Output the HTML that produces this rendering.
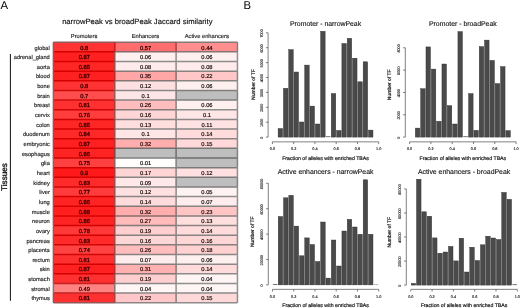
<!DOCTYPE html>
<html><head><meta charset="utf-8"><style>
html,body{margin:0;padding:0;background:#fff;width:520px;height:308px;overflow:hidden}
svg{display:block;font-family:"Liberation Sans", sans-serif;will-change:transform;text-rendering:geometricPrecision}
</style></head><body>
<svg width="520" height="308" viewBox="0 0 520 308">
<rect width="520" height="308" fill="#fff"/>
<rect x="53.40" y="42.20" width="61.35" height="9.65" fill="rgb(255,51,51)"/>
<rect x="114.75" y="42.20" width="61.35" height="9.65" fill="rgb(255,110,110)"/>
<rect x="176.10" y="42.20" width="61.35" height="9.65" fill="rgb(255,143,143)"/>
<rect x="53.40" y="51.85" width="61.35" height="9.65" fill="rgb(255,33,33)"/>
<rect x="114.75" y="51.85" width="61.35" height="9.65" fill="rgb(255,240,240)"/>
<rect x="176.10" y="51.85" width="61.35" height="9.65" fill="rgb(255,240,240)"/>
<rect x="53.40" y="61.50" width="61.35" height="9.65" fill="rgb(255,38,38)"/>
<rect x="114.75" y="61.50" width="61.35" height="9.65" fill="rgb(255,235,235)"/>
<rect x="176.10" y="61.50" width="61.35" height="9.65" fill="rgb(255,235,235)"/>
<rect x="53.40" y="71.15" width="61.35" height="9.65" fill="rgb(255,33,33)"/>
<rect x="114.75" y="71.15" width="61.35" height="9.65" fill="rgb(255,166,166)"/>
<rect x="176.10" y="71.15" width="61.35" height="9.65" fill="rgb(255,199,199)"/>
<rect x="53.40" y="80.80" width="61.35" height="9.65" fill="rgb(255,51,51)"/>
<rect x="114.75" y="80.80" width="61.35" height="9.65" fill="rgb(255,224,224)"/>
<rect x="176.10" y="80.80" width="61.35" height="9.65" fill="rgb(255,240,240)"/>
<rect x="53.40" y="90.45" width="61.35" height="9.65" fill="rgb(255,77,77)"/>
<rect x="114.75" y="90.45" width="61.35" height="9.65" fill="rgb(255,230,230)"/>
<rect x="176.10" y="90.45" width="61.35" height="9.65" fill="rgb(190,190,190)"/>
<rect x="53.40" y="100.10" width="61.35" height="9.65" fill="rgb(255,48,48)"/>
<rect x="114.75" y="100.10" width="61.35" height="9.65" fill="rgb(255,189,189)"/>
<rect x="176.10" y="100.10" width="61.35" height="9.65" fill="rgb(255,240,240)"/>
<rect x="53.40" y="109.75" width="61.35" height="9.65" fill="rgb(255,61,61)"/>
<rect x="114.75" y="109.75" width="61.35" height="9.65" fill="rgb(255,214,214)"/>
<rect x="176.10" y="109.75" width="61.35" height="9.65" fill="rgb(255,230,230)"/>
<rect x="53.40" y="119.40" width="61.35" height="9.65" fill="rgb(255,38,38)"/>
<rect x="114.75" y="119.40" width="61.35" height="9.65" fill="rgb(255,222,222)"/>
<rect x="176.10" y="119.40" width="61.35" height="9.65" fill="rgb(255,227,227)"/>
<rect x="53.40" y="129.05" width="61.35" height="9.65" fill="rgb(255,41,41)"/>
<rect x="114.75" y="129.05" width="61.35" height="9.65" fill="rgb(255,230,230)"/>
<rect x="176.10" y="129.05" width="61.35" height="9.65" fill="rgb(255,219,219)"/>
<rect x="53.40" y="138.70" width="61.35" height="9.65" fill="rgb(255,33,33)"/>
<rect x="114.75" y="138.70" width="61.35" height="9.65" fill="rgb(255,173,173)"/>
<rect x="176.10" y="138.70" width="61.35" height="9.65" fill="rgb(255,217,217)"/>
<rect x="53.40" y="148.35" width="61.35" height="9.65" fill="rgb(255,36,36)"/>
<rect x="114.75" y="148.35" width="61.35" height="9.65" fill="rgb(190,190,190)"/>
<rect x="176.10" y="148.35" width="61.35" height="9.65" fill="rgb(190,190,190)"/>
<rect x="53.40" y="158.00" width="61.35" height="9.65" fill="rgb(255,64,64)"/>
<rect x="114.75" y="158.00" width="61.35" height="9.65" fill="rgb(255,252,252)"/>
<rect x="176.10" y="158.00" width="61.35" height="9.65" fill="rgb(190,190,190)"/>
<rect x="53.40" y="167.65" width="61.35" height="9.65" fill="rgb(255,25,25)"/>
<rect x="114.75" y="167.65" width="61.35" height="9.65" fill="rgb(255,212,212)"/>
<rect x="176.10" y="167.65" width="61.35" height="9.65" fill="rgb(255,224,224)"/>
<rect x="53.40" y="177.30" width="61.35" height="9.65" fill="rgb(255,43,43)"/>
<rect x="114.75" y="177.30" width="61.35" height="9.65" fill="rgb(255,232,232)"/>
<rect x="176.10" y="177.30" width="61.35" height="9.65" fill="rgb(190,190,190)"/>
<rect x="53.40" y="186.95" width="61.35" height="9.65" fill="rgb(255,59,59)"/>
<rect x="114.75" y="186.95" width="61.35" height="9.65" fill="rgb(255,224,224)"/>
<rect x="176.10" y="186.95" width="61.35" height="9.65" fill="rgb(255,242,242)"/>
<rect x="53.40" y="196.60" width="61.35" height="9.65" fill="rgb(255,36,36)"/>
<rect x="114.75" y="196.60" width="61.35" height="9.65" fill="rgb(255,219,219)"/>
<rect x="176.10" y="196.60" width="61.35" height="9.65" fill="rgb(255,237,237)"/>
<rect x="53.40" y="206.25" width="61.35" height="9.65" fill="rgb(255,31,31)"/>
<rect x="114.75" y="206.25" width="61.35" height="9.65" fill="rgb(255,173,173)"/>
<rect x="176.10" y="206.25" width="61.35" height="9.65" fill="rgb(255,196,196)"/>
<rect x="53.40" y="215.90" width="61.35" height="9.65" fill="rgb(255,36,36)"/>
<rect x="114.75" y="215.90" width="61.35" height="9.65" fill="rgb(255,186,186)"/>
<rect x="176.10" y="215.90" width="61.35" height="9.65" fill="rgb(255,222,222)"/>
<rect x="53.40" y="225.55" width="61.35" height="9.65" fill="rgb(255,56,56)"/>
<rect x="114.75" y="225.55" width="61.35" height="9.65" fill="rgb(255,207,207)"/>
<rect x="176.10" y="225.55" width="61.35" height="9.65" fill="rgb(255,219,219)"/>
<rect x="53.40" y="235.20" width="61.35" height="9.65" fill="rgb(255,43,43)"/>
<rect x="114.75" y="235.20" width="61.35" height="9.65" fill="rgb(255,214,214)"/>
<rect x="176.10" y="235.20" width="61.35" height="9.65" fill="rgb(255,214,214)"/>
<rect x="53.40" y="244.85" width="61.35" height="9.65" fill="rgb(255,66,66)"/>
<rect x="114.75" y="244.85" width="61.35" height="9.65" fill="rgb(255,189,189)"/>
<rect x="176.10" y="244.85" width="61.35" height="9.65" fill="rgb(255,209,209)"/>
<rect x="53.40" y="254.50" width="61.35" height="9.65" fill="rgb(255,48,48)"/>
<rect x="114.75" y="254.50" width="61.35" height="9.65" fill="rgb(255,237,237)"/>
<rect x="176.10" y="254.50" width="61.35" height="9.65" fill="rgb(255,240,240)"/>
<rect x="53.40" y="264.15" width="61.35" height="9.65" fill="rgb(255,33,33)"/>
<rect x="114.75" y="264.15" width="61.35" height="9.65" fill="rgb(255,176,176)"/>
<rect x="176.10" y="264.15" width="61.35" height="9.65" fill="rgb(255,219,219)"/>
<rect x="53.40" y="273.80" width="61.35" height="9.65" fill="rgb(255,48,48)"/>
<rect x="114.75" y="273.80" width="61.35" height="9.65" fill="rgb(255,207,207)"/>
<rect x="176.10" y="273.80" width="61.35" height="9.65" fill="rgb(255,245,245)"/>
<rect x="53.40" y="283.45" width="61.35" height="9.65" fill="rgb(255,130,130)"/>
<rect x="114.75" y="283.45" width="61.35" height="9.65" fill="rgb(255,245,245)"/>
<rect x="176.10" y="283.45" width="61.35" height="9.65" fill="rgb(255,245,245)"/>
<rect x="53.40" y="293.10" width="61.35" height="9.65" fill="rgb(255,48,48)"/>
<rect x="114.75" y="293.10" width="61.35" height="9.65" fill="rgb(255,199,199)"/>
<rect x="176.10" y="293.10" width="61.35" height="9.65" fill="rgb(255,217,217)"/>
<line x1="53.40" y1="42.20" x2="114.75" y2="42.20" stroke="#925a5a" stroke-width="1.50"/>
<line x1="114.75" y1="42.20" x2="176.10" y2="42.20" stroke="#876f6f" stroke-width="1.50"/>
<line x1="176.10" y1="42.20" x2="237.45" y2="42.20" stroke="#857a7a" stroke-width="1.50"/>
<line x1="53.40" y1="51.85" x2="114.75" y2="51.85" stroke="#d30000" stroke-width="1.50"/>
<line x1="114.75" y1="51.85" x2="176.10" y2="51.85" stroke="#896a6a" stroke-width="1.50"/>
<line x1="176.10" y1="51.85" x2="237.45" y2="51.85" stroke="#867575" stroke-width="1.50"/>
<line x1="53.40" y1="61.50" x2="114.75" y2="61.50" stroke="#d50000" stroke-width="1.50"/>
<line x1="114.75" y1="61.50" x2="176.10" y2="61.50" stroke="#8f8c8c" stroke-width="1.50"/>
<line x1="176.10" y1="61.50" x2="237.45" y2="61.50" stroke="#8f8c8c" stroke-width="1.50"/>
<line x1="53.40" y1="71.15" x2="114.75" y2="71.15" stroke="#d50000" stroke-width="1.50"/>
<line x1="114.75" y1="71.15" x2="176.10" y2="71.15" stroke="#857b7b" stroke-width="1.50"/>
<line x1="176.10" y1="71.15" x2="237.45" y2="71.15" stroke="#888383" stroke-width="1.50"/>
<line x1="53.40" y1="80.80" x2="114.75" y2="80.80" stroke="#d30000" stroke-width="1.50"/>
<line x1="114.75" y1="80.80" x2="176.10" y2="80.80" stroke="#867777" stroke-width="1.50"/>
<line x1="176.10" y1="80.80" x2="237.45" y2="80.80" stroke="#898484" stroke-width="1.50"/>
<line x1="53.40" y1="90.45" x2="114.75" y2="90.45" stroke="#cc0d0d" stroke-width="1.50"/>
<line x1="114.75" y1="90.45" x2="176.10" y2="90.45" stroke="#8b8787" stroke-width="1.50"/>
<line x1="176.10" y1="90.45" x2="237.45" y2="90.45" stroke="#7f7e7e" stroke-width="1.50"/>
<line x1="53.40" y1="100.10" x2="114.75" y2="100.10" stroke="#cd0c0c" stroke-width="1.50"/>
<line x1="114.75" y1="100.10" x2="176.10" y2="100.10" stroke="#867f7f" stroke-width="1.50"/>
<line x1="176.10" y1="100.10" x2="237.45" y2="100.10" stroke="#7f7e7e" stroke-width="1.50"/>
<line x1="53.40" y1="109.75" x2="114.75" y2="109.75" stroke="#cf0606" stroke-width="1.50"/>
<line x1="114.75" y1="109.75" x2="176.10" y2="109.75" stroke="#857b7b" stroke-width="1.50"/>
<line x1="176.10" y1="109.75" x2="237.45" y2="109.75" stroke="#8e8b8b" stroke-width="1.50"/>
<line x1="53.40" y1="119.40" x2="114.75" y2="119.40" stroke="#d00303" stroke-width="1.50"/>
<line x1="114.75" y1="119.40" x2="176.10" y2="119.40" stroke="#898383" stroke-width="1.50"/>
<line x1="176.10" y1="119.40" x2="237.45" y2="119.40" stroke="#8c8888" stroke-width="1.50"/>
<line x1="53.40" y1="129.05" x2="114.75" y2="129.05" stroke="#d30000" stroke-width="1.50"/>
<line x1="114.75" y1="129.05" x2="176.10" y2="129.05" stroke="#8b8787" stroke-width="1.50"/>
<line x1="176.10" y1="129.05" x2="237.45" y2="129.05" stroke="#8a8585" stroke-width="1.50"/>
<line x1="53.40" y1="138.70" x2="114.75" y2="138.70" stroke="#d40000" stroke-width="1.50"/>
<line x1="114.75" y1="138.70" x2="176.10" y2="138.70" stroke="#857b7b" stroke-width="1.50"/>
<line x1="176.10" y1="138.70" x2="237.45" y2="138.70" stroke="#898383" stroke-width="1.50"/>
<line x1="53.40" y1="148.35" x2="114.75" y2="148.35" stroke="#d50000" stroke-width="1.50"/>
<line x1="114.75" y1="148.35" x2="176.10" y2="148.35" stroke="#756f6f" stroke-width="1.50"/>
<line x1="176.10" y1="148.35" x2="237.45" y2="148.35" stroke="#7b7878" stroke-width="1.50"/>
<line x1="53.40" y1="158.00" x2="114.75" y2="158.00" stroke="#d00303" stroke-width="1.50"/>
<line x1="114.75" y1="158.00" x2="176.10" y2="158.00" stroke="#818080" stroke-width="1.50"/>
<line x1="176.10" y1="158.00" x2="237.45" y2="158.00" stroke="#6e6e6e" stroke-width="1.50"/>
<line x1="53.40" y1="167.65" x2="114.75" y2="167.65" stroke="#d20000" stroke-width="1.50"/>
<line x1="114.75" y1="167.65" x2="176.10" y2="167.65" stroke="#8d8a8a" stroke-width="1.50"/>
<line x1="176.10" y1="167.65" x2="237.45" y2="167.65" stroke="#7c7a7a" stroke-width="1.50"/>
<line x1="53.40" y1="177.30" x2="114.75" y2="177.30" stroke="#d50000" stroke-width="1.50"/>
<line x1="114.75" y1="177.30" x2="176.10" y2="177.30" stroke="#8a8585" stroke-width="1.50"/>
<line x1="176.10" y1="177.30" x2="237.45" y2="177.30" stroke="#7c7a7a" stroke-width="1.50"/>
<line x1="53.40" y1="186.95" x2="114.75" y2="186.95" stroke="#d00404" stroke-width="1.50"/>
<line x1="114.75" y1="186.95" x2="176.10" y2="186.95" stroke="#8c8888" stroke-width="1.50"/>
<line x1="176.10" y1="186.95" x2="237.45" y2="186.95" stroke="#7f7e7e" stroke-width="1.50"/>
<line x1="53.40" y1="196.60" x2="114.75" y2="196.60" stroke="#d10101" stroke-width="1.50"/>
<line x1="114.75" y1="196.60" x2="176.10" y2="196.60" stroke="#8a8585" stroke-width="1.50"/>
<line x1="176.10" y1="196.60" x2="237.45" y2="196.60" stroke="#8f8d8d" stroke-width="1.50"/>
<line x1="53.40" y1="206.25" x2="114.75" y2="206.25" stroke="#d50000" stroke-width="1.50"/>
<line x1="114.75" y1="206.25" x2="176.10" y2="206.25" stroke="#857878" stroke-width="1.50"/>
<line x1="176.10" y1="206.25" x2="237.45" y2="206.25" stroke="#888383" stroke-width="1.50"/>
<line x1="53.40" y1="215.90" x2="114.75" y2="215.90" stroke="#d50000" stroke-width="1.50"/>
<line x1="114.75" y1="215.90" x2="176.10" y2="215.90" stroke="#886d6d" stroke-width="1.50"/>
<line x1="176.10" y1="215.90" x2="237.45" y2="215.90" stroke="#867f7f" stroke-width="1.50"/>
<line x1="53.40" y1="225.55" x2="114.75" y2="225.55" stroke="#d10000" stroke-width="1.50"/>
<line x1="114.75" y1="225.55" x2="176.10" y2="225.55" stroke="#857878" stroke-width="1.50"/>
<line x1="176.10" y1="225.55" x2="237.45" y2="225.55" stroke="#8a8484" stroke-width="1.50"/>
<line x1="53.40" y1="235.20" x2="114.75" y2="235.20" stroke="#d00303" stroke-width="1.50"/>
<line x1="114.75" y1="235.20" x2="176.10" y2="235.20" stroke="#868080" stroke-width="1.50"/>
<line x1="176.10" y1="235.20" x2="237.45" y2="235.20" stroke="#888383" stroke-width="1.50"/>
<line x1="53.40" y1="244.85" x2="114.75" y2="244.85" stroke="#cf0606" stroke-width="1.50"/>
<line x1="114.75" y1="244.85" x2="176.10" y2="244.85" stroke="#857b7b" stroke-width="1.50"/>
<line x1="176.10" y1="244.85" x2="237.45" y2="244.85" stroke="#878080" stroke-width="1.50"/>
<line x1="53.40" y1="254.50" x2="114.75" y2="254.50" stroke="#ce0808" stroke-width="1.50"/>
<line x1="114.75" y1="254.50" x2="176.10" y2="254.50" stroke="#878181" stroke-width="1.50"/>
<line x1="176.10" y1="254.50" x2="237.45" y2="254.50" stroke="#8b8686" stroke-width="1.50"/>
<line x1="53.40" y1="264.15" x2="114.75" y2="264.15" stroke="#d30000" stroke-width="1.50"/>
<line x1="114.75" y1="264.15" x2="176.10" y2="264.15" stroke="#857e7e" stroke-width="1.50"/>
<line x1="176.10" y1="264.15" x2="237.45" y2="264.15" stroke="#8c8888" stroke-width="1.50"/>
<line x1="53.40" y1="273.80" x2="114.75" y2="273.80" stroke="#d30000" stroke-width="1.50"/>
<line x1="114.75" y1="273.80" x2="176.10" y2="273.80" stroke="#867575" stroke-width="1.50"/>
<line x1="176.10" y1="273.80" x2="237.45" y2="273.80" stroke="#8d8a8a" stroke-width="1.50"/>
<line x1="53.40" y1="283.45" x2="114.75" y2="283.45" stroke="#c51f1f" stroke-width="1.50"/>
<line x1="114.75" y1="283.45" x2="176.10" y2="283.45" stroke="#8b8787" stroke-width="1.50"/>
<line x1="176.10" y1="283.45" x2="237.45" y2="283.45" stroke="#918f8f" stroke-width="1.50"/>
<line x1="53.40" y1="293.10" x2="114.75" y2="293.10" stroke="#c51f1f" stroke-width="1.50"/>
<line x1="114.75" y1="293.10" x2="176.10" y2="293.10" stroke="#8a8585" stroke-width="1.50"/>
<line x1="176.10" y1="293.10" x2="237.45" y2="293.10" stroke="#8d8989" stroke-width="1.50"/>
<line x1="53.40" y1="302.75" x2="114.75" y2="302.75" stroke="#935858" stroke-width="1.50"/>
<line x1="114.75" y1="302.75" x2="176.10" y2="302.75" stroke="#8b8787" stroke-width="1.50"/>
<line x1="176.10" y1="302.75" x2="237.45" y2="302.75" stroke="#8e8b8b" stroke-width="1.50"/>
<line x1="53.40" y1="42.20" x2="53.40" y2="51.85" stroke="#925a5a" stroke-width="1.50"/>
<line x1="53.40" y1="51.85" x2="53.40" y2="61.50" stroke="#975252" stroke-width="1.50"/>
<line x1="53.40" y1="61.50" x2="53.40" y2="71.15" stroke="#965454" stroke-width="1.50"/>
<line x1="53.40" y1="71.15" x2="53.40" y2="80.80" stroke="#975252" stroke-width="1.50"/>
<line x1="53.40" y1="80.80" x2="53.40" y2="90.45" stroke="#925a5a" stroke-width="1.50"/>
<line x1="53.40" y1="90.45" x2="53.40" y2="100.10" stroke="#8c6464" stroke-width="1.50"/>
<line x1="53.40" y1="100.10" x2="53.40" y2="109.75" stroke="#935858" stroke-width="1.50"/>
<line x1="53.40" y1="109.75" x2="53.40" y2="119.40" stroke="#905d5d" stroke-width="1.50"/>
<line x1="53.40" y1="119.40" x2="53.40" y2="129.05" stroke="#965454" stroke-width="1.50"/>
<line x1="53.40" y1="129.05" x2="53.40" y2="138.70" stroke="#955555" stroke-width="1.50"/>
<line x1="53.40" y1="138.70" x2="53.40" y2="148.35" stroke="#975252" stroke-width="1.50"/>
<line x1="53.40" y1="148.35" x2="53.40" y2="158.00" stroke="#965353" stroke-width="1.50"/>
<line x1="53.40" y1="158.00" x2="53.40" y2="167.65" stroke="#8f5f5f" stroke-width="1.50"/>
<line x1="53.40" y1="167.65" x2="53.40" y2="177.30" stroke="#9a4f4f" stroke-width="1.50"/>
<line x1="53.40" y1="177.30" x2="53.40" y2="186.95" stroke="#945656" stroke-width="1.50"/>
<line x1="53.40" y1="186.95" x2="53.40" y2="196.60" stroke="#905d5d" stroke-width="1.50"/>
<line x1="53.40" y1="196.60" x2="53.40" y2="206.25" stroke="#965353" stroke-width="1.50"/>
<line x1="53.40" y1="206.25" x2="53.40" y2="215.90" stroke="#985151" stroke-width="1.50"/>
<line x1="53.40" y1="215.90" x2="53.40" y2="225.55" stroke="#965353" stroke-width="1.50"/>
<line x1="53.40" y1="225.55" x2="53.40" y2="235.20" stroke="#915c5c" stroke-width="1.50"/>
<line x1="53.40" y1="235.20" x2="53.40" y2="244.85" stroke="#945656" stroke-width="1.50"/>
<line x1="53.40" y1="244.85" x2="53.40" y2="254.50" stroke="#8e5f5f" stroke-width="1.50"/>
<line x1="53.40" y1="254.50" x2="53.40" y2="264.15" stroke="#935858" stroke-width="1.50"/>
<line x1="53.40" y1="264.15" x2="53.40" y2="273.80" stroke="#975252" stroke-width="1.50"/>
<line x1="53.40" y1="273.80" x2="53.40" y2="283.45" stroke="#935858" stroke-width="1.50"/>
<line x1="53.40" y1="283.45" x2="53.40" y2="293.10" stroke="#867676" stroke-width="1.50"/>
<line x1="53.40" y1="293.10" x2="53.40" y2="302.75" stroke="#935858" stroke-width="1.50"/>
<line x1="114.75" y1="42.20" x2="114.75" y2="51.85" stroke="#c71919" stroke-width="1.50"/>
<line x1="114.75" y1="51.85" x2="114.75" y2="61.50" stroke="#9c4c4c" stroke-width="1.50"/>
<line x1="114.75" y1="61.50" x2="114.75" y2="71.15" stroke="#9c4c4c" stroke-width="1.50"/>
<line x1="114.75" y1="71.15" x2="114.75" y2="80.80" stroke="#bd2828" stroke-width="1.50"/>
<line x1="114.75" y1="80.80" x2="114.75" y2="90.45" stroke="#9b4d4d" stroke-width="1.50"/>
<line x1="114.75" y1="90.45" x2="114.75" y2="100.10" stroke="#925a5a" stroke-width="1.50"/>
<line x1="114.75" y1="100.10" x2="114.75" y2="109.75" stroke="#aa3b3b" stroke-width="1.50"/>
<line x1="114.75" y1="109.75" x2="114.75" y2="119.40" stroke="#9b4d4d" stroke-width="1.50"/>
<line x1="114.75" y1="119.40" x2="114.75" y2="129.05" stroke="#a14646" stroke-width="1.50"/>
<line x1="114.75" y1="129.05" x2="114.75" y2="138.70" stroke="#9d4b4b" stroke-width="1.50"/>
<line x1="114.75" y1="138.70" x2="114.75" y2="148.35" stroke="#b92c2c" stroke-width="1.50"/>
<line x1="114.75" y1="148.35" x2="114.75" y2="158.00" stroke="#834141" stroke-width="1.50"/>
<line x1="114.75" y1="158.00" x2="114.75" y2="167.65" stroke="#905d5d" stroke-width="1.50"/>
<line x1="114.75" y1="167.65" x2="114.75" y2="177.30" stroke="#aa3b3b" stroke-width="1.50"/>
<line x1="114.75" y1="177.30" x2="114.75" y2="186.95" stroke="#9b4d4d" stroke-width="1.50"/>
<line x1="114.75" y1="186.95" x2="114.75" y2="196.60" stroke="#995050" stroke-width="1.50"/>
<line x1="114.75" y1="196.60" x2="114.75" y2="206.25" stroke="#a34444" stroke-width="1.50"/>
<line x1="114.75" y1="206.25" x2="114.75" y2="215.90" stroke="#ba2b2b" stroke-width="1.50"/>
<line x1="114.75" y1="215.90" x2="114.75" y2="225.55" stroke="#b13434" stroke-width="1.50"/>
<line x1="114.75" y1="225.55" x2="114.75" y2="235.20" stroke="#a04747" stroke-width="1.50"/>
<line x1="114.75" y1="235.20" x2="114.75" y2="244.85" stroke="#a24545" stroke-width="1.50"/>
<line x1="114.75" y1="244.85" x2="114.75" y2="254.50" stroke="#a34444" stroke-width="1.50"/>
<line x1="114.75" y1="254.50" x2="114.75" y2="264.15" stroke="#985151" stroke-width="1.50"/>
<line x1="114.75" y1="264.15" x2="114.75" y2="273.80" stroke="#b82d2d" stroke-width="1.50"/>
<line x1="114.75" y1="273.80" x2="114.75" y2="283.45" stroke="#a34444" stroke-width="1.50"/>
<line x1="114.75" y1="283.45" x2="114.75" y2="293.10" stroke="#867373" stroke-width="1.50"/>
<line x1="114.75" y1="293.10" x2="114.75" y2="302.75" stroke="#a64040" stroke-width="1.50"/>
<line x1="176.10" y1="42.20" x2="176.10" y2="51.85" stroke="#a44343" stroke-width="1.50"/>
<line x1="176.10" y1="51.85" x2="176.10" y2="61.50" stroke="#8f8d8d" stroke-width="1.50"/>
<line x1="176.10" y1="61.50" x2="176.10" y2="71.15" stroke="#8e8b8b" stroke-width="1.50"/>
<line x1="176.10" y1="71.15" x2="176.10" y2="80.80" stroke="#876f6f" stroke-width="1.50"/>
<line x1="176.10" y1="80.80" x2="176.10" y2="90.45" stroke="#8d8a8a" stroke-width="1.50"/>
<line x1="176.10" y1="90.45" x2="176.10" y2="100.10" stroke="#7d7b7b" stroke-width="1.50"/>
<line x1="176.10" y1="100.10" x2="176.10" y2="109.75" stroke="#888282" stroke-width="1.50"/>
<line x1="176.10" y1="109.75" x2="176.10" y2="119.40" stroke="#8a8585" stroke-width="1.50"/>
<line x1="176.10" y1="119.40" x2="176.10" y2="129.05" stroke="#8b8686" stroke-width="1.50"/>
<line x1="176.10" y1="129.05" x2="176.10" y2="138.70" stroke="#8b8686" stroke-width="1.50"/>
<line x1="176.10" y1="138.70" x2="176.10" y2="148.35" stroke="#867777" stroke-width="1.50"/>
<line x1="176.10" y1="148.35" x2="176.10" y2="158.00" stroke="#6e6e6e" stroke-width="1.50"/>
<line x1="176.10" y1="158.00" x2="176.10" y2="167.65" stroke="#818080" stroke-width="1.50"/>
<line x1="176.10" y1="167.65" x2="176.10" y2="177.30" stroke="#898383" stroke-width="1.50"/>
<line x1="176.10" y1="177.30" x2="176.10" y2="186.95" stroke="#7e7c7c" stroke-width="1.50"/>
<line x1="176.10" y1="186.95" x2="176.10" y2="196.60" stroke="#8d8a8a" stroke-width="1.50"/>
<line x1="176.10" y1="196.60" x2="176.10" y2="206.25" stroke="#8c8888" stroke-width="1.50"/>
<line x1="176.10" y1="206.25" x2="176.10" y2="215.90" stroke="#877171" stroke-width="1.50"/>
<line x1="176.10" y1="215.90" x2="176.10" y2="225.55" stroke="#857d7d" stroke-width="1.50"/>
<line x1="176.10" y1="225.55" x2="176.10" y2="235.20" stroke="#878181" stroke-width="1.50"/>
<line x1="176.10" y1="235.20" x2="176.10" y2="244.85" stroke="#888181" stroke-width="1.50"/>
<line x1="176.10" y1="244.85" x2="176.10" y2="254.50" stroke="#857a7a" stroke-width="1.50"/>
<line x1="176.10" y1="254.50" x2="176.10" y2="264.15" stroke="#8f8c8c" stroke-width="1.50"/>
<line x1="176.10" y1="264.15" x2="176.10" y2="273.80" stroke="#857979" stroke-width="1.50"/>
<line x1="176.10" y1="273.80" x2="176.10" y2="283.45" stroke="#8b8787" stroke-width="1.50"/>
<line x1="176.10" y1="283.45" x2="176.10" y2="293.10" stroke="#918f8f" stroke-width="1.50"/>
<line x1="176.10" y1="293.10" x2="176.10" y2="302.75" stroke="#867f7f" stroke-width="1.50"/>
<line x1="237.45" y1="42.20" x2="237.45" y2="51.85" stroke="#857a7a" stroke-width="1.50"/>
<line x1="237.45" y1="51.85" x2="237.45" y2="61.50" stroke="#929191" stroke-width="1.50"/>
<line x1="237.45" y1="61.50" x2="237.45" y2="71.15" stroke="#918f8f" stroke-width="1.50"/>
<line x1="237.45" y1="71.15" x2="237.45" y2="80.80" stroke="#8b8787" stroke-width="1.50"/>
<line x1="237.45" y1="80.80" x2="237.45" y2="90.45" stroke="#929191" stroke-width="1.50"/>
<line x1="237.45" y1="90.45" x2="237.45" y2="100.10" stroke="#818181" stroke-width="1.50"/>
<line x1="237.45" y1="100.10" x2="237.45" y2="109.75" stroke="#929191" stroke-width="1.50"/>
<line x1="237.45" y1="109.75" x2="237.45" y2="119.40" stroke="#908e8e" stroke-width="1.50"/>
<line x1="237.45" y1="119.40" x2="237.45" y2="129.05" stroke="#908e8e" stroke-width="1.50"/>
<line x1="237.45" y1="129.05" x2="237.45" y2="138.70" stroke="#8e8c8c" stroke-width="1.50"/>
<line x1="237.45" y1="138.70" x2="237.45" y2="148.35" stroke="#8e8b8b" stroke-width="1.50"/>
<line x1="237.45" y1="148.35" x2="237.45" y2="158.00" stroke="#818181" stroke-width="1.50"/>
<line x1="237.45" y1="158.00" x2="237.45" y2="167.65" stroke="#818181" stroke-width="1.50"/>
<line x1="237.45" y1="167.65" x2="237.45" y2="177.30" stroke="#8f8d8d" stroke-width="1.50"/>
<line x1="237.45" y1="177.30" x2="237.45" y2="186.95" stroke="#818181" stroke-width="1.50"/>
<line x1="237.45" y1="186.95" x2="237.45" y2="196.60" stroke="#929191" stroke-width="1.50"/>
<line x1="237.45" y1="196.60" x2="237.45" y2="206.25" stroke="#919090" stroke-width="1.50"/>
<line x1="237.45" y1="206.25" x2="237.45" y2="215.90" stroke="#8b8787" stroke-width="1.50"/>
<line x1="237.45" y1="215.90" x2="237.45" y2="225.55" stroke="#8f8c8c" stroke-width="1.50"/>
<line x1="237.45" y1="225.55" x2="237.45" y2="235.20" stroke="#8e8c8c" stroke-width="1.50"/>
<line x1="237.45" y1="235.20" x2="237.45" y2="244.85" stroke="#8e8b8b" stroke-width="1.50"/>
<line x1="237.45" y1="244.85" x2="237.45" y2="254.50" stroke="#8d8a8a" stroke-width="1.50"/>
<line x1="237.45" y1="254.50" x2="237.45" y2="264.15" stroke="#929191" stroke-width="1.50"/>
<line x1="237.45" y1="264.15" x2="237.45" y2="273.80" stroke="#8e8c8c" stroke-width="1.50"/>
<line x1="237.45" y1="273.80" x2="237.45" y2="283.45" stroke="#929292" stroke-width="1.50"/>
<line x1="237.45" y1="283.45" x2="237.45" y2="293.10" stroke="#929292" stroke-width="1.50"/>
<line x1="237.45" y1="293.10" x2="237.45" y2="302.75" stroke="#8e8b8b" stroke-width="1.50"/>
<text x="49.80" y="49.53" text-anchor="end" font-size="5.70" fill="#222" stroke="#222" stroke-width="0.15">global</text>
<text x="84.28" y="49.53" text-anchor="middle" font-size="5.75" fill="#480000" stroke="#480000" stroke-width="0.36">0.8</text>
<text x="145.62" y="49.53" text-anchor="middle" font-size="5.75" fill="#330000" stroke="#330000" stroke-width="0.26">0.57</text>
<text x="206.97" y="49.53" text-anchor="middle" font-size="5.75" fill="#270000" stroke="#270000" stroke-width="0.21">0.44</text>
<text x="49.80" y="59.18" text-anchor="end" font-size="5.70" fill="#222" stroke="#222" stroke-width="0.15">adrenal_gland</text>
<text x="84.28" y="59.18" text-anchor="middle" font-size="5.75" fill="#4e0000" stroke="#4e0000" stroke-width="0.39">0.87</text>
<text x="145.62" y="59.18" text-anchor="middle" font-size="5.75" fill="#050000" stroke="#050000" stroke-width="0.15">0.06</text>
<text x="206.97" y="59.18" text-anchor="middle" font-size="5.75" fill="#050000" stroke="#050000" stroke-width="0.15">0.06</text>
<text x="49.80" y="68.83" text-anchor="end" font-size="5.70" fill="#222" stroke="#222" stroke-width="0.15">aorta</text>
<text x="84.28" y="68.83" text-anchor="middle" font-size="5.75" fill="#4c0000" stroke="#4c0000" stroke-width="0.38">0.85</text>
<text x="145.62" y="68.83" text-anchor="middle" font-size="5.75" fill="#070000" stroke="#070000" stroke-width="0.15">0.08</text>
<text x="206.97" y="68.83" text-anchor="middle" font-size="5.75" fill="#070000" stroke="#070000" stroke-width="0.15">0.08</text>
<text x="49.80" y="78.48" text-anchor="end" font-size="5.70" fill="#222" stroke="#222" stroke-width="0.15">blood</text>
<text x="84.28" y="78.48" text-anchor="middle" font-size="5.75" fill="#4e0000" stroke="#4e0000" stroke-width="0.39">0.87</text>
<text x="145.62" y="78.48" text-anchor="middle" font-size="5.75" fill="#1f0000" stroke="#1f0000" stroke-width="0.17">0.35</text>
<text x="206.97" y="78.48" text-anchor="middle" font-size="5.75" fill="#140000" stroke="#140000" stroke-width="0.15">0.22</text>
<text x="49.80" y="88.13" text-anchor="end" font-size="5.70" fill="#222" stroke="#222" stroke-width="0.15">bone</text>
<text x="84.28" y="88.13" text-anchor="middle" font-size="5.75" fill="#480000" stroke="#480000" stroke-width="0.36">0.8</text>
<text x="145.62" y="88.13" text-anchor="middle" font-size="5.75" fill="#0b0000" stroke="#0b0000" stroke-width="0.15">0.12</text>
<text x="206.97" y="88.13" text-anchor="middle" font-size="5.75" fill="#050000" stroke="#050000" stroke-width="0.15">0.06</text>
<text x="49.80" y="97.78" text-anchor="end" font-size="5.70" fill="#222" stroke="#222" stroke-width="0.15">brain</text>
<text x="84.28" y="97.78" text-anchor="middle" font-size="5.75" fill="#3e0000" stroke="#3e0000" stroke-width="0.32">0.7</text>
<text x="145.62" y="97.78" text-anchor="middle" font-size="5.75" fill="#090000" stroke="#090000" stroke-width="0.15">0.1</text>
<text x="49.80" y="107.43" text-anchor="end" font-size="5.70" fill="#222" stroke="#222" stroke-width="0.15">breast</text>
<text x="84.28" y="107.43" text-anchor="middle" font-size="5.75" fill="#490000" stroke="#490000" stroke-width="0.36">0.81</text>
<text x="145.62" y="107.43" text-anchor="middle" font-size="5.75" fill="#170000" stroke="#170000" stroke-width="0.15">0.26</text>
<text x="206.97" y="107.43" text-anchor="middle" font-size="5.75" fill="#050000" stroke="#050000" stroke-width="0.15">0.06</text>
<text x="49.80" y="117.08" text-anchor="end" font-size="5.70" fill="#222" stroke="#222" stroke-width="0.15">cervix</text>
<text x="84.28" y="117.08" text-anchor="middle" font-size="5.75" fill="#440000" stroke="#440000" stroke-width="0.34">0.76</text>
<text x="145.62" y="117.08" text-anchor="middle" font-size="5.75" fill="#0e0000" stroke="#0e0000" stroke-width="0.15">0.16</text>
<text x="206.97" y="117.08" text-anchor="middle" font-size="5.75" fill="#090000" stroke="#090000" stroke-width="0.15">0.1</text>
<text x="49.80" y="126.73" text-anchor="end" font-size="5.70" fill="#222" stroke="#222" stroke-width="0.15">colon</text>
<text x="84.28" y="126.73" text-anchor="middle" font-size="5.75" fill="#4c0000" stroke="#4c0000" stroke-width="0.38">0.85</text>
<text x="145.62" y="126.73" text-anchor="middle" font-size="5.75" fill="#0c0000" stroke="#0c0000" stroke-width="0.15">0.13</text>
<text x="206.97" y="126.73" text-anchor="middle" font-size="5.75" fill="#0a0000" stroke="#0a0000" stroke-width="0.15">0.11</text>
<text x="49.80" y="136.38" text-anchor="end" font-size="5.70" fill="#222" stroke="#222" stroke-width="0.15">duodenum</text>
<text x="84.28" y="136.38" text-anchor="middle" font-size="5.75" fill="#4b0000" stroke="#4b0000" stroke-width="0.38">0.84</text>
<text x="145.62" y="136.38" text-anchor="middle" font-size="5.75" fill="#090000" stroke="#090000" stroke-width="0.15">0.1</text>
<text x="206.97" y="136.38" text-anchor="middle" font-size="5.75" fill="#0d0000" stroke="#0d0000" stroke-width="0.15">0.14</text>
<text x="49.80" y="146.02" text-anchor="end" font-size="5.70" fill="#222" stroke="#222" stroke-width="0.15">embryonic</text>
<text x="84.28" y="146.02" text-anchor="middle" font-size="5.75" fill="#4e0000" stroke="#4e0000" stroke-width="0.39">0.87</text>
<text x="145.62" y="146.02" text-anchor="middle" font-size="5.75" fill="#1d0000" stroke="#1d0000" stroke-width="0.16">0.32</text>
<text x="206.97" y="146.02" text-anchor="middle" font-size="5.75" fill="#0d0000" stroke="#0d0000" stroke-width="0.15">0.15</text>
<text x="49.80" y="155.68" text-anchor="end" font-size="5.70" fill="#222" stroke="#222" stroke-width="0.15">esophagus</text>
<text x="84.28" y="155.68" text-anchor="middle" font-size="5.75" fill="#4d0000" stroke="#4d0000" stroke-width="0.38">0.86</text>
<text x="49.80" y="165.32" text-anchor="end" font-size="5.70" fill="#222" stroke="#222" stroke-width="0.15">glia</text>
<text x="84.28" y="165.32" text-anchor="middle" font-size="5.75" fill="#430000" stroke="#430000" stroke-width="0.34">0.75</text>
<text x="145.62" y="165.32" text-anchor="middle" font-size="5.75" fill="#010000" stroke="#010000" stroke-width="0.15">0.01</text>
<text x="49.80" y="174.97" text-anchor="end" font-size="5.70" fill="#222" stroke="#222" stroke-width="0.15">heart</text>
<text x="84.28" y="174.97" text-anchor="middle" font-size="5.75" fill="#510000" stroke="#510000" stroke-width="0.40">0.9</text>
<text x="145.62" y="174.97" text-anchor="middle" font-size="5.75" fill="#0f0000" stroke="#0f0000" stroke-width="0.15">0.17</text>
<text x="206.97" y="174.97" text-anchor="middle" font-size="5.75" fill="#0b0000" stroke="#0b0000" stroke-width="0.15">0.12</text>
<text x="49.80" y="184.62" text-anchor="end" font-size="5.70" fill="#222" stroke="#222" stroke-width="0.15">kidney</text>
<text x="84.28" y="184.62" text-anchor="middle" font-size="5.75" fill="#4a0000" stroke="#4a0000" stroke-width="0.37">0.83</text>
<text x="145.62" y="184.62" text-anchor="middle" font-size="5.75" fill="#080000" stroke="#080000" stroke-width="0.15">0.09</text>
<text x="49.80" y="194.27" text-anchor="end" font-size="5.70" fill="#222" stroke="#222" stroke-width="0.15">liver</text>
<text x="84.28" y="194.27" text-anchor="middle" font-size="5.75" fill="#450000" stroke="#450000" stroke-width="0.35">0.77</text>
<text x="145.62" y="194.27" text-anchor="middle" font-size="5.75" fill="#0b0000" stroke="#0b0000" stroke-width="0.15">0.12</text>
<text x="206.97" y="194.27" text-anchor="middle" font-size="5.75" fill="#050000" stroke="#050000" stroke-width="0.15">0.05</text>
<text x="49.80" y="203.93" text-anchor="end" font-size="5.70" fill="#222" stroke="#222" stroke-width="0.15">lung</text>
<text x="84.28" y="203.93" text-anchor="middle" font-size="5.75" fill="#4d0000" stroke="#4d0000" stroke-width="0.38">0.86</text>
<text x="145.62" y="203.93" text-anchor="middle" font-size="5.75" fill="#0d0000" stroke="#0d0000" stroke-width="0.15">0.14</text>
<text x="206.97" y="203.93" text-anchor="middle" font-size="5.75" fill="#060000" stroke="#060000" stroke-width="0.15">0.07</text>
<text x="49.80" y="213.57" text-anchor="end" font-size="5.70" fill="#222" stroke="#222" stroke-width="0.15">muscle</text>
<text x="84.28" y="213.57" text-anchor="middle" font-size="5.75" fill="#4f0000" stroke="#4f0000" stroke-width="0.39">0.88</text>
<text x="145.62" y="213.57" text-anchor="middle" font-size="5.75" fill="#1d0000" stroke="#1d0000" stroke-width="0.16">0.32</text>
<text x="206.97" y="213.57" text-anchor="middle" font-size="5.75" fill="#150000" stroke="#150000" stroke-width="0.15">0.23</text>
<text x="49.80" y="223.23" text-anchor="end" font-size="5.70" fill="#222" stroke="#222" stroke-width="0.15">neuron</text>
<text x="84.28" y="223.23" text-anchor="middle" font-size="5.75" fill="#4d0000" stroke="#4d0000" stroke-width="0.38">0.86</text>
<text x="145.62" y="223.23" text-anchor="middle" font-size="5.75" fill="#180000" stroke="#180000" stroke-width="0.15">0.27</text>
<text x="206.97" y="223.23" text-anchor="middle" font-size="5.75" fill="#0c0000" stroke="#0c0000" stroke-width="0.15">0.13</text>
<text x="49.80" y="232.88" text-anchor="end" font-size="5.70" fill="#222" stroke="#222" stroke-width="0.15">ovary</text>
<text x="84.28" y="232.88" text-anchor="middle" font-size="5.75" fill="#460000" stroke="#460000" stroke-width="0.35">0.78</text>
<text x="145.62" y="232.88" text-anchor="middle" font-size="5.75" fill="#110000" stroke="#110000" stroke-width="0.15">0.19</text>
<text x="206.97" y="232.88" text-anchor="middle" font-size="5.75" fill="#0d0000" stroke="#0d0000" stroke-width="0.15">0.14</text>
<text x="49.80" y="242.52" text-anchor="end" font-size="5.70" fill="#222" stroke="#222" stroke-width="0.15">pancreas</text>
<text x="84.28" y="242.52" text-anchor="middle" font-size="5.75" fill="#4a0000" stroke="#4a0000" stroke-width="0.37">0.83</text>
<text x="145.62" y="242.52" text-anchor="middle" font-size="5.75" fill="#0e0000" stroke="#0e0000" stroke-width="0.15">0.16</text>
<text x="206.97" y="242.52" text-anchor="middle" font-size="5.75" fill="#0e0000" stroke="#0e0000" stroke-width="0.15">0.16</text>
<text x="49.80" y="252.18" text-anchor="end" font-size="5.70" fill="#222" stroke="#222" stroke-width="0.15">placenta</text>
<text x="84.28" y="252.18" text-anchor="middle" font-size="5.75" fill="#420000" stroke="#420000" stroke-width="0.33">0.74</text>
<text x="145.62" y="252.18" text-anchor="middle" font-size="5.75" fill="#170000" stroke="#170000" stroke-width="0.15">0.26</text>
<text x="206.97" y="252.18" text-anchor="middle" font-size="5.75" fill="#100000" stroke="#100000" stroke-width="0.15">0.18</text>
<text x="49.80" y="261.82" text-anchor="end" font-size="5.70" fill="#222" stroke="#222" stroke-width="0.15">rectum</text>
<text x="84.28" y="261.82" text-anchor="middle" font-size="5.75" fill="#490000" stroke="#490000" stroke-width="0.36">0.81</text>
<text x="145.62" y="261.82" text-anchor="middle" font-size="5.75" fill="#060000" stroke="#060000" stroke-width="0.15">0.07</text>
<text x="206.97" y="261.82" text-anchor="middle" font-size="5.75" fill="#050000" stroke="#050000" stroke-width="0.15">0.06</text>
<text x="49.80" y="271.48" text-anchor="end" font-size="5.70" fill="#222" stroke="#222" stroke-width="0.15">skin</text>
<text x="84.28" y="271.48" text-anchor="middle" font-size="5.75" fill="#4e0000" stroke="#4e0000" stroke-width="0.39">0.87</text>
<text x="145.62" y="271.48" text-anchor="middle" font-size="5.75" fill="#1c0000" stroke="#1c0000" stroke-width="0.15">0.31</text>
<text x="206.97" y="271.48" text-anchor="middle" font-size="5.75" fill="#0d0000" stroke="#0d0000" stroke-width="0.15">0.14</text>
<text x="49.80" y="281.12" text-anchor="end" font-size="5.70" fill="#222" stroke="#222" stroke-width="0.15">stomach</text>
<text x="84.28" y="281.12" text-anchor="middle" font-size="5.75" fill="#490000" stroke="#490000" stroke-width="0.36">0.81</text>
<text x="145.62" y="281.12" text-anchor="middle" font-size="5.75" fill="#110000" stroke="#110000" stroke-width="0.15">0.19</text>
<text x="206.97" y="281.12" text-anchor="middle" font-size="5.75" fill="#040000" stroke="#040000" stroke-width="0.15">0.04</text>
<text x="49.80" y="290.77" text-anchor="end" font-size="5.70" fill="#222" stroke="#222" stroke-width="0.15">stromal</text>
<text x="84.28" y="290.77" text-anchor="middle" font-size="5.75" fill="#2c0000" stroke="#2c0000" stroke-width="0.23">0.49</text>
<text x="145.62" y="290.77" text-anchor="middle" font-size="5.75" fill="#040000" stroke="#040000" stroke-width="0.15">0.04</text>
<text x="206.97" y="290.77" text-anchor="middle" font-size="5.75" fill="#040000" stroke="#040000" stroke-width="0.15">0.04</text>
<text x="49.80" y="300.43" text-anchor="end" font-size="5.70" fill="#222" stroke="#222" stroke-width="0.15">thymus</text>
<text x="84.28" y="300.43" text-anchor="middle" font-size="5.75" fill="#490000" stroke="#490000" stroke-width="0.36">0.81</text>
<text x="145.62" y="300.43" text-anchor="middle" font-size="5.75" fill="#140000" stroke="#140000" stroke-width="0.15">0.22</text>
<text x="206.97" y="300.43" text-anchor="middle" font-size="5.75" fill="#0d0000" stroke="#0d0000" stroke-width="0.15">0.15</text>
<text x="84.08" y="38.20" text-anchor="middle" font-size="5.75" fill="#222" stroke="#222" stroke-width="0.15">Promoters</text>
<text x="145.43" y="38.20" text-anchor="middle" font-size="5.75" fill="#222" stroke="#222" stroke-width="0.15">Enhancers</text>
<text x="206.78" y="38.20" text-anchor="middle" font-size="5.75" fill="#222" stroke="#222" stroke-width="0.15">Active enhancers</text>
<text x="137.30" y="24.20" text-anchor="middle" font-size="7.65" fill="#111" stroke="#111" stroke-width="0.15">narrowPeak vs broadPeak Jaccard similarity</text>
<text x="0.6" y="8.9" font-size="11.3" fill="#000">A</text>
<text transform="translate(6.7,177) rotate(-90)" text-anchor="middle" font-size="8.2" fill="#111" stroke="#111" stroke-width="0.3">Tissues</text>
<line x1="10.4" y1="54" x2="10.4" y2="300.8" stroke="#111" stroke-width="1"/>
<rect x="278.11" y="128.50" width="4.51" height="8.60" fill="#4a4a4a" stroke="#2c2c2c" stroke-width="0.40"/>
<rect x="283.43" y="88.30" width="4.51" height="48.80" fill="#4a4a4a" stroke="#2c2c2c" stroke-width="0.40"/>
<rect x="288.74" y="49.60" width="4.51" height="87.50" fill="#4a4a4a" stroke="#2c2c2c" stroke-width="0.40"/>
<rect x="294.06" y="72.00" width="4.51" height="65.10" fill="#4a4a4a" stroke="#2c2c2c" stroke-width="0.40"/>
<rect x="299.37" y="122.00" width="4.51" height="15.10" fill="#4a4a4a" stroke="#2c2c2c" stroke-width="0.40"/>
<rect x="304.69" y="65.10" width="4.51" height="72.00" fill="#4a4a4a" stroke="#2c2c2c" stroke-width="0.40"/>
<rect x="310.00" y="106.10" width="4.51" height="31.00" fill="#4a4a4a" stroke="#2c2c2c" stroke-width="0.40"/>
<rect x="315.32" y="124.00" width="4.51" height="13.10" fill="#4a4a4a" stroke="#2c2c2c" stroke-width="0.40"/>
<rect x="320.63" y="31.30" width="4.51" height="105.80" fill="#4a4a4a" stroke="#2c2c2c" stroke-width="0.40"/>
<rect x="325.95" y="136.30" width="4.51" height="0.80" fill="#555"/>
<rect x="331.26" y="93.50" width="4.51" height="43.60" fill="#4a4a4a" stroke="#2c2c2c" stroke-width="0.40"/>
<rect x="336.58" y="130.50" width="4.51" height="6.60" fill="#4a4a4a" stroke="#2c2c2c" stroke-width="0.40"/>
<rect x="341.89" y="43.50" width="4.51" height="93.60" fill="#4a4a4a" stroke="#2c2c2c" stroke-width="0.40"/>
<rect x="347.21" y="38.30" width="4.51" height="98.80" fill="#4a4a4a" stroke="#2c2c2c" stroke-width="0.40"/>
<rect x="352.52" y="58.20" width="4.51" height="78.90" fill="#4a4a4a" stroke="#2c2c2c" stroke-width="0.40"/>
<rect x="357.84" y="81.80" width="4.51" height="55.30" fill="#4a4a4a" stroke="#2c2c2c" stroke-width="0.40"/>
<rect x="363.15" y="61.80" width="4.51" height="75.30" fill="#4a4a4a" stroke="#2c2c2c" stroke-width="0.40"/>
<rect x="368.47" y="130.10" width="4.51" height="7.00" fill="#4a4a4a" stroke="#2c2c2c" stroke-width="0.40"/>
<path d="M268.10 137.10V32.80" stroke="#4a4a4a" stroke-width="0.70" fill="none"/>
<path d="M268.10 137.10H265.90" stroke="#4a4a4a" stroke-width="0.70"/>
<text transform="translate(263.17,137.70) rotate(-90)" text-anchor="middle" font-size="3.80" fill="#222" stroke="#222" stroke-width="0.13">0</text>
<path d="M268.10 122.20H265.90" stroke="#4a4a4a" stroke-width="0.70"/>
<text transform="translate(263.17,122.80) rotate(-90)" text-anchor="middle" font-size="3.80" fill="#222" stroke="#222" stroke-width="0.13">1000</text>
<path d="M268.10 107.30H265.90" stroke="#4a4a4a" stroke-width="0.70"/>
<text transform="translate(263.17,107.90) rotate(-90)" text-anchor="middle" font-size="3.80" fill="#222" stroke="#222" stroke-width="0.13">2000</text>
<path d="M268.10 92.40H265.90" stroke="#4a4a4a" stroke-width="0.70"/>
<text transform="translate(263.17,93.00) rotate(-90)" text-anchor="middle" font-size="3.80" fill="#222" stroke="#222" stroke-width="0.13">3000</text>
<path d="M268.10 77.50H265.90" stroke="#4a4a4a" stroke-width="0.70"/>
<text transform="translate(263.17,78.10) rotate(-90)" text-anchor="middle" font-size="3.80" fill="#222" stroke="#222" stroke-width="0.13">4000</text>
<path d="M268.10 62.60H265.90" stroke="#4a4a4a" stroke-width="0.70"/>
<text transform="translate(263.17,63.20) rotate(-90)" text-anchor="middle" font-size="3.80" fill="#222" stroke="#222" stroke-width="0.13">5000</text>
<path d="M268.10 47.70H265.90" stroke="#4a4a4a" stroke-width="0.70"/>
<text transform="translate(263.17,48.30) rotate(-90)" text-anchor="middle" font-size="3.80" fill="#222" stroke="#222" stroke-width="0.13">6000</text>
<path d="M268.10 32.80H265.90" stroke="#4a4a4a" stroke-width="0.70"/>
<text transform="translate(263.17,33.40) rotate(-90)" text-anchor="middle" font-size="3.80" fill="#222" stroke="#222" stroke-width="0.13">7000</text>
<path d="M272.40 141.85H378.70" stroke="#4a4a4a" stroke-width="0.70" fill="none"/>
<path d="M272.40 141.85V144.05" stroke="#4a4a4a" stroke-width="0.70"/>
<text x="272.40" y="149.52" text-anchor="middle" font-size="3.80" fill="#222" stroke="#222" stroke-width="0.13">0.0</text>
<path d="M293.66 141.85V144.05" stroke="#4a4a4a" stroke-width="0.70"/>
<text x="293.66" y="149.52" text-anchor="middle" font-size="3.80" fill="#222" stroke="#222" stroke-width="0.13">0.2</text>
<path d="M314.92 141.85V144.05" stroke="#4a4a4a" stroke-width="0.70"/>
<text x="314.92" y="149.52" text-anchor="middle" font-size="3.80" fill="#222" stroke="#222" stroke-width="0.13">0.4</text>
<path d="M336.18 141.85V144.05" stroke="#4a4a4a" stroke-width="0.70"/>
<text x="336.18" y="149.52" text-anchor="middle" font-size="3.80" fill="#222" stroke="#222" stroke-width="0.13">0.6</text>
<path d="M357.44 141.85V144.05" stroke="#4a4a4a" stroke-width="0.70"/>
<text x="357.44" y="149.52" text-anchor="middle" font-size="3.80" fill="#222" stroke="#222" stroke-width="0.13">0.8</text>
<path d="M378.70 141.85V144.05" stroke="#4a4a4a" stroke-width="0.70"/>
<text x="378.70" y="149.52" text-anchor="middle" font-size="3.80" fill="#222" stroke="#222" stroke-width="0.13">1.0</text>
<text x="325.55" y="25.90" text-anchor="middle" font-size="6.90" fill="#111" stroke="#111" stroke-width="0.12">Promoter - narrowPeak</text>
<text x="325.55" y="159.60" text-anchor="middle" font-size="5.20" fill="#1a1a1a" stroke="#1a1a1a" stroke-width="0.2">Fraction of alleles with enriched TBAs</text>
<text transform="translate(254.50,84.50) rotate(-90)" text-anchor="middle" font-size="5.00" fill="#1a1a1a" stroke="#1a1a1a" stroke-width="0.2">Number of TF</text>
<rect x="415.32" y="128.10" width="4.53" height="9.00" fill="#4a4a4a" stroke="#2c2c2c" stroke-width="0.40"/>
<rect x="420.65" y="88.70" width="4.53" height="48.40" fill="#4a4a4a" stroke="#2c2c2c" stroke-width="0.40"/>
<rect x="425.98" y="46.90" width="4.53" height="90.20" fill="#4a4a4a" stroke="#2c2c2c" stroke-width="0.40"/>
<rect x="431.30" y="69.10" width="4.53" height="68.00" fill="#4a4a4a" stroke="#2c2c2c" stroke-width="0.40"/>
<rect x="436.62" y="121.30" width="4.53" height="15.80" fill="#4a4a4a" stroke="#2c2c2c" stroke-width="0.40"/>
<rect x="441.95" y="64.00" width="4.53" height="73.10" fill="#4a4a4a" stroke="#2c2c2c" stroke-width="0.40"/>
<rect x="447.27" y="105.60" width="4.53" height="31.50" fill="#4a4a4a" stroke="#2c2c2c" stroke-width="0.40"/>
<rect x="452.60" y="124.00" width="4.53" height="13.10" fill="#4a4a4a" stroke="#2c2c2c" stroke-width="0.40"/>
<rect x="457.93" y="31.60" width="4.53" height="105.50" fill="#4a4a4a" stroke="#2c2c2c" stroke-width="0.40"/>
<rect x="463.25" y="136.30" width="4.53" height="0.80" fill="#555"/>
<rect x="468.57" y="93.60" width="4.53" height="43.50" fill="#4a4a4a" stroke="#2c2c2c" stroke-width="0.40"/>
<rect x="473.90" y="130.30" width="4.53" height="6.80" fill="#4a4a4a" stroke="#2c2c2c" stroke-width="0.40"/>
<rect x="479.23" y="46.60" width="4.53" height="90.50" fill="#4a4a4a" stroke="#2c2c2c" stroke-width="0.40"/>
<rect x="484.55" y="40.10" width="4.53" height="97.00" fill="#4a4a4a" stroke="#2c2c2c" stroke-width="0.40"/>
<rect x="489.88" y="60.40" width="4.53" height="76.70" fill="#4a4a4a" stroke="#2c2c2c" stroke-width="0.40"/>
<rect x="495.20" y="83.60" width="4.53" height="53.50" fill="#4a4a4a" stroke="#2c2c2c" stroke-width="0.40"/>
<rect x="500.52" y="66.60" width="4.53" height="70.50" fill="#4a4a4a" stroke="#2c2c2c" stroke-width="0.40"/>
<rect x="505.85" y="130.60" width="4.53" height="6.50" fill="#4a4a4a" stroke="#2c2c2c" stroke-width="0.40"/>
<path d="M405.30 137.10V47.78" stroke="#4a4a4a" stroke-width="0.70" fill="none"/>
<path d="M405.30 137.10H403.10" stroke="#4a4a4a" stroke-width="0.70"/>
<text transform="translate(400.37,137.70) rotate(-90)" text-anchor="middle" font-size="3.80" fill="#222" stroke="#222" stroke-width="0.13">0</text>
<path d="M405.30 114.77H403.10" stroke="#4a4a4a" stroke-width="0.70"/>
<text transform="translate(400.37,115.37) rotate(-90)" text-anchor="middle" font-size="3.80" fill="#222" stroke="#222" stroke-width="0.13">2000</text>
<path d="M405.30 92.44H403.10" stroke="#4a4a4a" stroke-width="0.70"/>
<text transform="translate(400.37,93.04) rotate(-90)" text-anchor="middle" font-size="3.80" fill="#222" stroke="#222" stroke-width="0.13">4000</text>
<path d="M405.30 70.11H403.10" stroke="#4a4a4a" stroke-width="0.70"/>
<text transform="translate(400.37,70.71) rotate(-90)" text-anchor="middle" font-size="3.80" fill="#222" stroke="#222" stroke-width="0.13">6000</text>
<path d="M405.30 47.78H403.10" stroke="#4a4a4a" stroke-width="0.70"/>
<text transform="translate(400.37,48.38) rotate(-90)" text-anchor="middle" font-size="3.80" fill="#222" stroke="#222" stroke-width="0.13">8000</text>
<path d="M409.60 141.85H516.10" stroke="#4a4a4a" stroke-width="0.70" fill="none"/>
<path d="M409.60 141.85V144.05" stroke="#4a4a4a" stroke-width="0.70"/>
<text x="409.60" y="149.52" text-anchor="middle" font-size="3.80" fill="#222" stroke="#222" stroke-width="0.13">0.0</text>
<path d="M430.90 141.85V144.05" stroke="#4a4a4a" stroke-width="0.70"/>
<text x="430.90" y="149.52" text-anchor="middle" font-size="3.80" fill="#222" stroke="#222" stroke-width="0.13">0.2</text>
<path d="M452.20 141.85V144.05" stroke="#4a4a4a" stroke-width="0.70"/>
<text x="452.20" y="149.52" text-anchor="middle" font-size="3.80" fill="#222" stroke="#222" stroke-width="0.13">0.4</text>
<path d="M473.50 141.85V144.05" stroke="#4a4a4a" stroke-width="0.70"/>
<text x="473.50" y="149.52" text-anchor="middle" font-size="3.80" fill="#222" stroke="#222" stroke-width="0.13">0.6</text>
<path d="M494.80 141.85V144.05" stroke="#4a4a4a" stroke-width="0.70"/>
<text x="494.80" y="149.52" text-anchor="middle" font-size="3.80" fill="#222" stroke="#222" stroke-width="0.13">0.8</text>
<path d="M516.10 141.85V144.05" stroke="#4a4a4a" stroke-width="0.70"/>
<text x="516.10" y="149.52" text-anchor="middle" font-size="3.80" fill="#222" stroke="#222" stroke-width="0.13">1.0</text>
<text x="462.85" y="25.90" text-anchor="middle" font-size="6.90" fill="#111" stroke="#111" stroke-width="0.12">Promoter - broadPeak</text>
<text x="462.85" y="159.60" text-anchor="middle" font-size="5.20" fill="#1a1a1a" stroke="#1a1a1a" stroke-width="0.2">Fraction of alleles with enriched TBAs</text>
<text transform="translate(391.40,84.80) rotate(-90)" text-anchor="middle" font-size="5.00" fill="#1a1a1a" stroke="#1a1a1a" stroke-width="0.2">Number of TF</text>
<rect x="272.90" y="284.10" width="4.51" height="0.80" fill="#555"/>
<rect x="278.21" y="216.50" width="4.51" height="68.40" fill="#4a4a4a" stroke="#2c2c2c" stroke-width="0.40"/>
<rect x="283.52" y="197.80" width="4.51" height="87.10" fill="#4a4a4a" stroke="#2c2c2c" stroke-width="0.40"/>
<rect x="288.83" y="195.30" width="4.51" height="89.60" fill="#4a4a4a" stroke="#2c2c2c" stroke-width="0.40"/>
<rect x="294.14" y="226.10" width="4.51" height="58.80" fill="#4a4a4a" stroke="#2c2c2c" stroke-width="0.40"/>
<rect x="299.45" y="255.80" width="4.51" height="29.10" fill="#4a4a4a" stroke="#2c2c2c" stroke-width="0.40"/>
<rect x="304.76" y="237.90" width="4.51" height="47.00" fill="#4a4a4a" stroke="#2c2c2c" stroke-width="0.40"/>
<rect x="310.07" y="244.50" width="4.51" height="40.40" fill="#4a4a4a" stroke="#2c2c2c" stroke-width="0.40"/>
<rect x="315.38" y="261.50" width="4.51" height="23.40" fill="#4a4a4a" stroke="#2c2c2c" stroke-width="0.40"/>
<rect x="320.69" y="222.00" width="4.51" height="62.90" fill="#4a4a4a" stroke="#2c2c2c" stroke-width="0.40"/>
<rect x="326.00" y="278.10" width="4.51" height="6.80" fill="#4a4a4a" stroke="#2c2c2c" stroke-width="0.40"/>
<rect x="331.31" y="240.00" width="4.51" height="44.90" fill="#4a4a4a" stroke="#2c2c2c" stroke-width="0.40"/>
<rect x="336.62" y="266.00" width="4.51" height="18.90" fill="#4a4a4a" stroke="#2c2c2c" stroke-width="0.40"/>
<rect x="341.93" y="231.00" width="4.51" height="53.90" fill="#4a4a4a" stroke="#2c2c2c" stroke-width="0.40"/>
<rect x="347.24" y="219.30" width="4.51" height="65.60" fill="#4a4a4a" stroke="#2c2c2c" stroke-width="0.40"/>
<rect x="352.55" y="227.00" width="4.51" height="57.90" fill="#4a4a4a" stroke="#2c2c2c" stroke-width="0.40"/>
<rect x="357.86" y="234.30" width="4.51" height="50.60" fill="#4a4a4a" stroke="#2c2c2c" stroke-width="0.40"/>
<rect x="363.17" y="179.80" width="4.51" height="105.10" fill="#4a4a4a" stroke="#2c2c2c" stroke-width="0.40"/>
<rect x="368.48" y="234.30" width="4.51" height="50.60" fill="#4a4a4a" stroke="#2c2c2c" stroke-width="0.40"/>
<rect x="373.79" y="284.10" width="4.51" height="0.80" fill="#aaa"/>
<path d="M268.30 284.90V183.30" stroke="#4a4a4a" stroke-width="0.70" fill="none"/>
<path d="M268.30 284.90H266.10" stroke="#4a4a4a" stroke-width="0.70"/>
<text transform="translate(263.37,285.50) rotate(-90)" text-anchor="middle" font-size="3.80" fill="#222" stroke="#222" stroke-width="0.13">0</text>
<path d="M268.30 259.50H266.10" stroke="#4a4a4a" stroke-width="0.70"/>
<text transform="translate(263.37,260.10) rotate(-90)" text-anchor="middle" font-size="3.80" fill="#222" stroke="#222" stroke-width="0.13">20000</text>
<path d="M268.30 234.10H266.10" stroke="#4a4a4a" stroke-width="0.70"/>
<text transform="translate(263.37,234.70) rotate(-90)" text-anchor="middle" font-size="3.80" fill="#222" stroke="#222" stroke-width="0.13">40000</text>
<path d="M268.30 208.70H266.10" stroke="#4a4a4a" stroke-width="0.70"/>
<text transform="translate(263.37,209.30) rotate(-90)" text-anchor="middle" font-size="3.80" fill="#222" stroke="#222" stroke-width="0.13">60000</text>
<path d="M268.30 183.30H266.10" stroke="#4a4a4a" stroke-width="0.70"/>
<text transform="translate(263.37,183.90) rotate(-90)" text-anchor="middle" font-size="3.80" fill="#222" stroke="#222" stroke-width="0.13">80000</text>
<path d="M272.50 289.35H378.70" stroke="#4a4a4a" stroke-width="0.70" fill="none"/>
<path d="M272.50 289.35V291.55" stroke="#4a4a4a" stroke-width="0.70"/>
<text x="272.50" y="297.72" text-anchor="middle" font-size="3.80" fill="#222" stroke="#222" stroke-width="0.13">0.0</text>
<path d="M293.74 289.35V291.55" stroke="#4a4a4a" stroke-width="0.70"/>
<text x="293.74" y="297.72" text-anchor="middle" font-size="3.80" fill="#222" stroke="#222" stroke-width="0.13">0.2</text>
<path d="M314.98 289.35V291.55" stroke="#4a4a4a" stroke-width="0.70"/>
<text x="314.98" y="297.72" text-anchor="middle" font-size="3.80" fill="#222" stroke="#222" stroke-width="0.13">0.4</text>
<path d="M336.22 289.35V291.55" stroke="#4a4a4a" stroke-width="0.70"/>
<text x="336.22" y="297.72" text-anchor="middle" font-size="3.80" fill="#222" stroke="#222" stroke-width="0.13">0.6</text>
<path d="M357.46 289.35V291.55" stroke="#4a4a4a" stroke-width="0.70"/>
<text x="357.46" y="297.72" text-anchor="middle" font-size="3.80" fill="#222" stroke="#222" stroke-width="0.13">0.8</text>
<path d="M378.70 289.35V291.55" stroke="#4a4a4a" stroke-width="0.70"/>
<text x="378.70" y="297.72" text-anchor="middle" font-size="3.80" fill="#222" stroke="#222" stroke-width="0.13">1.0</text>
<text x="325.60" y="173.90" text-anchor="middle" font-size="6.90" fill="#111" stroke="#111" stroke-width="0.12">Active enhancers - narrowPeak</text>
<text x="325.60" y="306.90" text-anchor="middle" font-size="5.20" fill="#1a1a1a" stroke="#1a1a1a" stroke-width="0.2">Fraction of alleles with enriched TBAs</text>
<text transform="translate(254.20,231.70) rotate(-90)" text-anchor="middle" font-size="5.00" fill="#1a1a1a" stroke="#1a1a1a" stroke-width="0.2">Number of TF</text>
<rect x="411.20" y="283.40" width="4.53" height="1.70" fill="#4a4a4a" stroke="#2c2c2c" stroke-width="0.40"/>
<rect x="416.52" y="179.20" width="4.53" height="105.90" fill="#4a4a4a" stroke="#2c2c2c" stroke-width="0.40"/>
<rect x="421.85" y="211.80" width="4.53" height="73.30" fill="#4a4a4a" stroke="#2c2c2c" stroke-width="0.40"/>
<rect x="427.18" y="216.20" width="4.53" height="68.90" fill="#4a4a4a" stroke="#2c2c2c" stroke-width="0.40"/>
<rect x="432.50" y="237.90" width="4.53" height="47.20" fill="#4a4a4a" stroke="#2c2c2c" stroke-width="0.40"/>
<rect x="437.82" y="253.20" width="4.53" height="31.90" fill="#4a4a4a" stroke="#2c2c2c" stroke-width="0.40"/>
<rect x="443.15" y="252.00" width="4.53" height="33.10" fill="#4a4a4a" stroke="#2c2c2c" stroke-width="0.40"/>
<rect x="448.47" y="246.40" width="4.53" height="38.70" fill="#4a4a4a" stroke="#2c2c2c" stroke-width="0.40"/>
<rect x="453.80" y="260.90" width="4.53" height="24.20" fill="#4a4a4a" stroke="#2c2c2c" stroke-width="0.40"/>
<rect x="459.12" y="238.20" width="4.53" height="46.90" fill="#4a4a4a" stroke="#2c2c2c" stroke-width="0.40"/>
<rect x="464.45" y="272.00" width="4.53" height="13.10" fill="#4a4a4a" stroke="#2c2c2c" stroke-width="0.40"/>
<rect x="469.77" y="247.20" width="4.53" height="37.90" fill="#4a4a4a" stroke="#2c2c2c" stroke-width="0.40"/>
<rect x="475.10" y="260.50" width="4.53" height="24.60" fill="#4a4a4a" stroke="#2c2c2c" stroke-width="0.40"/>
<rect x="480.43" y="244.80" width="4.53" height="40.30" fill="#4a4a4a" stroke="#2c2c2c" stroke-width="0.40"/>
<rect x="485.75" y="236.20" width="4.53" height="48.90" fill="#4a4a4a" stroke="#2c2c2c" stroke-width="0.40"/>
<rect x="491.07" y="238.00" width="4.53" height="47.10" fill="#4a4a4a" stroke="#2c2c2c" stroke-width="0.40"/>
<rect x="496.40" y="239.50" width="4.53" height="45.60" fill="#4a4a4a" stroke="#2c2c2c" stroke-width="0.40"/>
<rect x="501.73" y="192.40" width="4.53" height="92.70" fill="#4a4a4a" stroke="#2c2c2c" stroke-width="0.40"/>
<rect x="507.05" y="199.30" width="4.53" height="85.80" fill="#4a4a4a" stroke="#2c2c2c" stroke-width="0.40"/>
<rect x="512.38" y="284.30" width="4.53" height="0.80" fill="#555"/>
<path d="M406.30 285.10V188.90" stroke="#4a4a4a" stroke-width="0.70" fill="none"/>
<path d="M406.30 285.10H404.10" stroke="#4a4a4a" stroke-width="0.70"/>
<text transform="translate(401.37,285.70) rotate(-90)" text-anchor="middle" font-size="3.80" fill="#222" stroke="#222" stroke-width="0.13">0</text>
<path d="M406.30 261.05H404.10" stroke="#4a4a4a" stroke-width="0.70"/>
<text transform="translate(401.37,261.65) rotate(-90)" text-anchor="middle" font-size="3.80" fill="#222" stroke="#222" stroke-width="0.13">20000</text>
<path d="M406.30 237.00H404.10" stroke="#4a4a4a" stroke-width="0.70"/>
<text transform="translate(401.37,237.60) rotate(-90)" text-anchor="middle" font-size="3.80" fill="#222" stroke="#222" stroke-width="0.13">40000</text>
<path d="M406.30 212.95H404.10" stroke="#4a4a4a" stroke-width="0.70"/>
<text transform="translate(401.37,213.55) rotate(-90)" text-anchor="middle" font-size="3.80" fill="#222" stroke="#222" stroke-width="0.13">60000</text>
<path d="M406.30 188.90H404.10" stroke="#4a4a4a" stroke-width="0.70"/>
<text transform="translate(401.37,189.50) rotate(-90)" text-anchor="middle" font-size="3.80" fill="#222" stroke="#222" stroke-width="0.13">80000</text>
<path d="M410.80 289.35H517.30" stroke="#4a4a4a" stroke-width="0.70" fill="none"/>
<path d="M410.80 289.35V291.55" stroke="#4a4a4a" stroke-width="0.70"/>
<text x="410.80" y="297.72" text-anchor="middle" font-size="3.80" fill="#222" stroke="#222" stroke-width="0.13">0.0</text>
<path d="M432.10 289.35V291.55" stroke="#4a4a4a" stroke-width="0.70"/>
<text x="432.10" y="297.72" text-anchor="middle" font-size="3.80" fill="#222" stroke="#222" stroke-width="0.13">0.2</text>
<path d="M453.40 289.35V291.55" stroke="#4a4a4a" stroke-width="0.70"/>
<text x="453.40" y="297.72" text-anchor="middle" font-size="3.80" fill="#222" stroke="#222" stroke-width="0.13">0.4</text>
<path d="M474.70 289.35V291.55" stroke="#4a4a4a" stroke-width="0.70"/>
<text x="474.70" y="297.72" text-anchor="middle" font-size="3.80" fill="#222" stroke="#222" stroke-width="0.13">0.6</text>
<path d="M496.00 289.35V291.55" stroke="#4a4a4a" stroke-width="0.70"/>
<text x="496.00" y="297.72" text-anchor="middle" font-size="3.80" fill="#222" stroke="#222" stroke-width="0.13">0.8</text>
<path d="M517.30 289.35V291.55" stroke="#4a4a4a" stroke-width="0.70"/>
<text x="517.30" y="297.72" text-anchor="middle" font-size="3.80" fill="#222" stroke="#222" stroke-width="0.13">1.0</text>
<text x="464.05" y="173.90" text-anchor="middle" font-size="6.90" fill="#111" stroke="#111" stroke-width="0.12">Active enhancers - broadPeak</text>
<text x="464.05" y="306.90" text-anchor="middle" font-size="5.20" fill="#1a1a1a" stroke="#1a1a1a" stroke-width="0.2">Fraction of alleles with enriched TBAs</text>
<text transform="translate(390.80,232.20) rotate(-90)" text-anchor="middle" font-size="5.00" fill="#1a1a1a" stroke="#1a1a1a" stroke-width="0.2">Number of TF</text>
<text x="243.4" y="8.9" font-size="11.3" fill="#000">B</text>
</svg>
</body></html>
